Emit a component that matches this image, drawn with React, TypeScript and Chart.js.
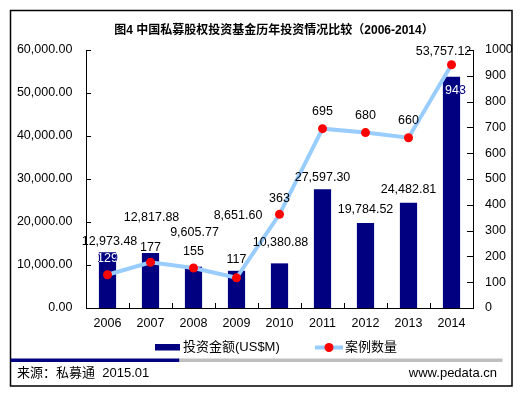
import React, { useEffect, useRef } from "react";
import { Chart, registerables } from "chart.js";

Chart.register(...registerables);

const years = ["2006", "2007", "2008", "2009", "2010", "2011", "2012", "2013", "2014"];
const investAmount = [12973.48, 12817.88, 9605.77, 8651.6, 10380.88, 27597.3, 19784.52, 24482.81, 53757.12];
const caseCount = [129, 177, 155, 117, 363, 695, 680, 660, 943];
const leftAxisMax = 60000;
const leftAxisStep = 10000;
const rightAxisMax = 1000;
const rightAxisStep = 100;
const titleText = "图4 中国私募股权投资基金历年投资情况比较（2006-2014）";
const seriesNames = ["投资金额(US$M)", "案例数量"];
const sourceText = "来源：私募通  2015.01";
const siteText = "www.pedata.cn";

// label placement offsets (px) relative to the mark, mimicking the original's placement
const barLabelOffsets = [[2, -11], [1, -35], [1, -34], [1.5, -55], [1, -21], [0, -12], [0, -13], [0, -13], [-8, -25]];
const lineLabelOffsets = [[0, -16], [0, -15], [0, -16], [0, -18], [0, -16], [0, -17], [0, -17], [0, -17], [4, 26]];
const lineLabelInside = [true, false, false, false, false, false, false, false, true];

const NAVY = "#000080";
const LIGHTBLUE = "#99CCFF";
const RED = "#FF0000";
const FONT = '"Liberation Sans", "Noto Sans CJK SC", sans-serif';

const fmt2 = (v: number) =>
  v.toLocaleString("en-US", { minimumFractionDigits: 2, maximumFractionDigits: 2 });

const decor = {
  id: "decor",
  beforeDraw(chart: any) {
    const ctx = chart.ctx;
    ctx.save();
    ctx.fillStyle = "#fff";
    ctx.fillRect(0, 0, chart.width, chart.height);
    ctx.restore();
  },
  afterDatasetsDraw(chart: any) {
    const ctx = chart.ctx;
    ctx.save();
    ctx.font = "12.5px " + FONT;
    ctx.textAlign = "center";
    ctx.textBaseline = "middle";
    const barMeta = chart.getDatasetMeta(0);
    barMeta.data.forEach((el: any, i: number) => {
      const [dx, dy] = barLabelOffsets[i];
      ctx.fillStyle = "#000";
      ctx.fillText(fmt2(investAmount[i]), el.x + dx, el.y + dy);
    });
    const lineMeta = chart.getDatasetMeta(1);
    lineMeta.data.forEach((el: any, i: number) => {
      const [dx, dy] = lineLabelOffsets[i];
      const tx = el.x + dx;
      const ty = el.y + dy;
      const txt = String(caseCount[i]);
      if (lineLabelInside[i]) {
        // dark where the text runs past the bar, white over the bar
        ctx.fillStyle = NAVY;
        ctx.fillText(txt, tx, ty);
        const bar = barMeta.data[i];
        const half = bar.width / 2;
        ctx.save();
        ctx.beginPath();
        ctx.rect(bar.x - half, bar.y, bar.width, bar.base - bar.y);
        ctx.clip();
        ctx.fillStyle = "#fff";
        ctx.fillText(txt, tx, ty);
        ctx.restore();
      } else {
        ctx.fillStyle = "#000";
        ctx.fillText(txt, tx, ty);
      }
    });
    ctx.restore();
  },
  afterDraw(chart: any) {
    const ctx = chart.ctx;
    const ca = chart.chartArea;
    const yL = chart.scales.y;
    const yR = chart.scales.y1;
    ctx.save();
    // inside tick marks
    ctx.strokeStyle = "#000";
    ctx.lineWidth = 1;
    ctx.beginPath();
    for (let v = 0; v <= leftAxisMax; v += leftAxisStep) {
      const y = Math.round(yL.getPixelForValue(v)) + 0.5;
      ctx.moveTo(ca.left, y);
      ctx.lineTo(ca.left + 5, y);
    }
    for (let v = 0; v <= rightAxisMax; v += rightAxisStep) {
      const y = Math.round(yR.getPixelForValue(v)) + 0.5;
      ctx.moveTo(ca.right - 6, y);
      ctx.lineTo(ca.right, y);
    }
    const n = years.length;
    for (let i = 1; i < n; i++) {
      const x = Math.round(ca.left + (i * (ca.right - ca.left)) / n) + 0.5;
      ctx.moveTo(x, ca.bottom);
      ctx.lineTo(x, ca.bottom - 5);
    }
    ctx.stroke();

    // outer frame
    ctx.lineWidth = 1.5;
    ctx.strokeRect(10.5, 10.5, 501.5, 375.5);

    // title
    ctx.fillStyle = "#000";
    ctx.font = 'bold 12px "Liberation Sans", "Noto Sans CJK SC", sans-serif';
    ctx.textAlign = "center";
    ctx.textBaseline = "middle";
    ctx.fillText(titleText, 274, 31);

    // legend
    ctx.fillStyle = NAVY;
    ctx.fillRect(155, 344, 25, 6.5);
    ctx.fillStyle = "#000";
    ctx.font = "13px " + FONT;
    ctx.textAlign = "left";
    ctx.fillText(seriesNames[0], 183, 347.5);
    ctx.strokeStyle = LIGHTBLUE;
    ctx.lineWidth = 4;
    ctx.beginPath();
    ctx.moveTo(315, 347.5);
    ctx.lineTo(343, 347.5);
    ctx.stroke();
    ctx.fillStyle = RED;
    ctx.beginPath();
    ctx.arc(329, 347.5, 4.5, 0, Math.PI * 2);
    ctx.fill();
    ctx.fillStyle = "#000";
    ctx.fillText(seriesNames[1], 345, 347.5);

    // divider
    ctx.fillStyle = NAVY;
    ctx.fillRect(10.5, 358.5, 169, 3.5);
    ctx.fillStyle = "#BFBFBF";
    ctx.fillRect(179.5, 358.5, 323, 3.5);

    // footer
    ctx.fillStyle = "#000";
    ctx.font = "13px " + FONT;
    ctx.textAlign = "left";
    ctx.fillText(sourceText, 17, 373.5);
    ctx.textAlign = "right";
    ctx.fillText(siteText, 497, 373.5);
    ctx.restore();
  },
};

export default function App() {
  const ref = useRef<HTMLCanvasElement | null>(null);
  useEffect(() => {
    if (!ref.current) return;
    const chart = new Chart(ref.current, {
      data: {
        labels: years,
        datasets: [
          {
            type: "bar",
            label: seriesNames[0],
            data: investAmount,
            backgroundColor: NAVY,
            borderWidth: 0,
            yAxisID: "y",
            categoryPercentage: 1,
            barPercentage: 0.4,
            order: 2,
          },
          {
            type: "line",
            label: seriesNames[1],
            data: caseCount,
            borderColor: LIGHTBLUE,
            borderWidth: 4,
            backgroundColor: RED,
            pointBackgroundColor: RED,
            pointBorderWidth: 0,
            pointRadius: 4.5,
            tension: 0,
            yAxisID: "y1",
            order: 1,
          },
        ],
      } as any,
      options: {
        responsive: false,
        animation: false,
        events: [],
        layout: { padding: { top: 50, left: 0, right: 0, bottom: 0 } },
        plugins: {
          legend: { display: false },
          title: { display: false },
          tooltip: { enabled: false },
        },
        scales: {
          x: {
            offset: true,
            grid: { display: false, drawTicks: false },
            border: { display: true, color: "#000", width: 1 },
            ticks: { color: "#000", font: { family: FONT, size: 12.5 }, padding: 8 },
            afterFit: (s: any) => {
              s.height = 85;
            },
          },
          y: {
            position: "left",
            min: 0,
            max: leftAxisMax,
            grid: { display: false, drawTicks: false },
            border: { display: true, color: "#000", width: 1 },
            ticks: {
              stepSize: leftAxisStep,
              color: "#000",
              font: { family: FONT, size: 12.5 },
              padding: 13.5,
              callback: (v: any) => fmt2(Number(v)),
            },
            afterFit: (s: any) => {
              s.width = 86;
            },
          },
          y1: {
            position: "right",
            min: 0,
            max: rightAxisMax,
            grid: { display: false, drawTicks: false },
            border: { display: true, color: "#000", width: 1 },
            ticks: {
              stepSize: rightAxisStep,
              color: "#000",
              font: { family: FONT, size: 12.5 },
              padding: 12,
              callback: (v: any) => String(v),
            },
            afterFit: (s: any) => {
              s.width = 51;
            },
          },
        },
      } as any,
      plugins: [decor],
    });
    return () => chart.destroy();
  }, []);
  return (
    <div style={{ position: "absolute", left: 0, top: 0, width: 524, height: 393 }}>
      <canvas ref={ref} width={524} height={393} style={{ width: 524, height: 393, display: "block" }} />
    </div>
  );
}
